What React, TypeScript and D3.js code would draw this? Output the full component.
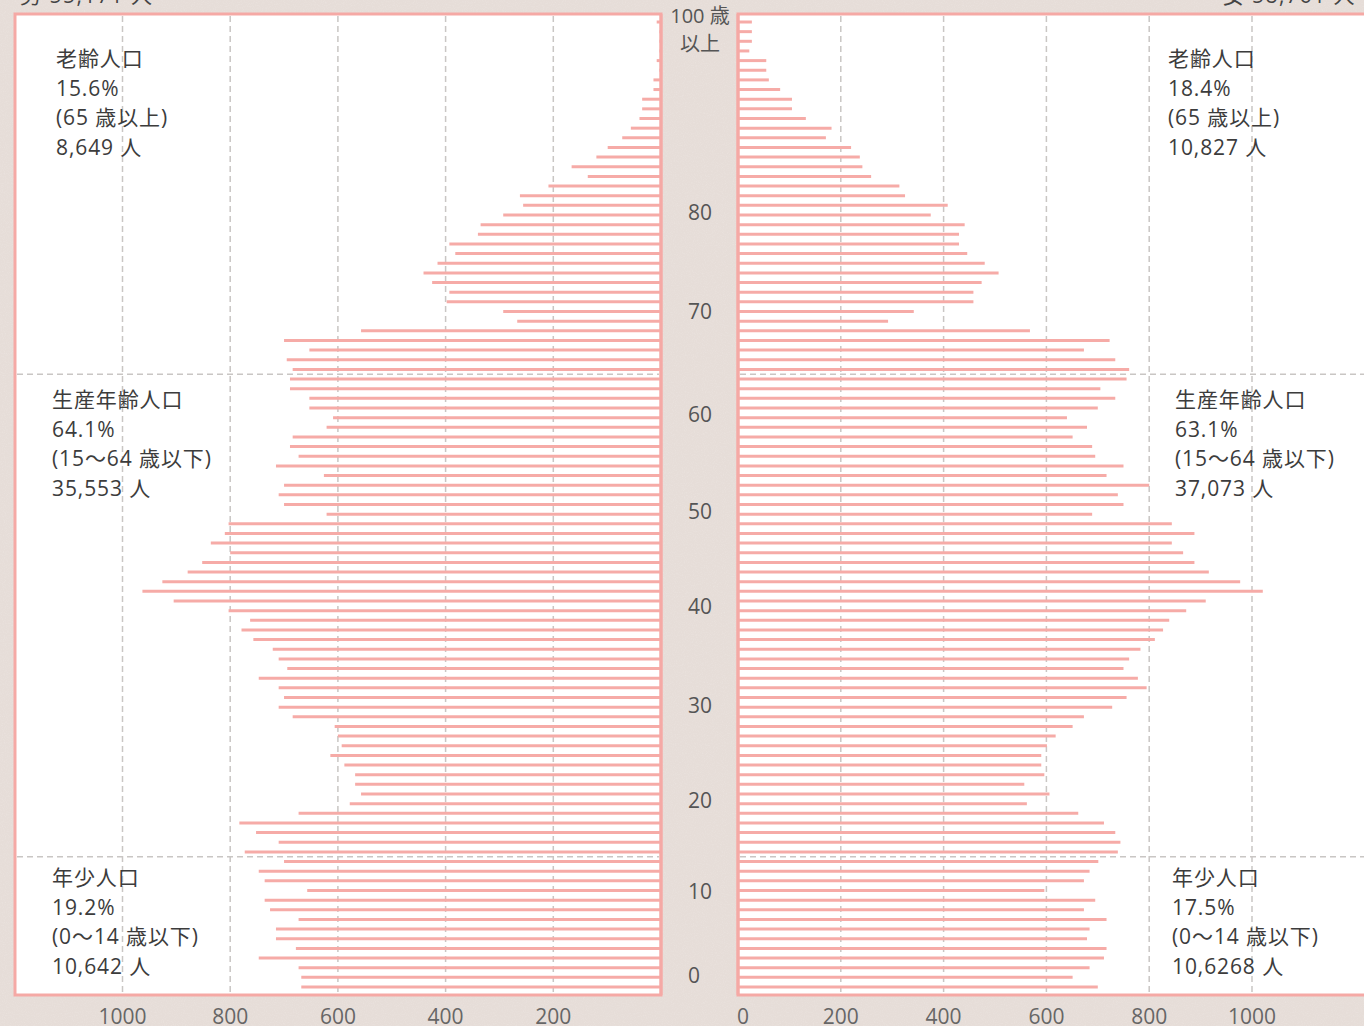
import React from "react";
import * as d3 from "d3";

// ---- data (ages listed from 100+ down to 0) ----
const ages: number[] = d3.range(100, -1, -1);

const maleValues: number[] = [
  8, 3, 3, 3, 8, 3, 14, 14, 35, 35,
  40, 56, 72, 99, 120, 166, 136, 209, 262, 256,
  293, 335, 340, 393, 382, 415, 441, 425, 393, 398,
  293, 267, 557, 700, 653, 695, 684, 689, 689, 653,
  653, 609, 621, 684, 689, 673, 715, 626, 700, 710,
  700, 621, 803, 810, 836, 800, 852, 879, 926, 963,
  905, 803, 763, 779, 757, 721, 710, 694, 747, 710,
  700, 710, 684, 606, 600, 593, 614, 588, 568, 568,
  557, 578, 673, 783, 752, 710, 773, 700, 747, 736,
  657, 736, 726, 673, 715, 715, 678, 747, 673, 668,
  668,
];

const femaleValues: number[] = [
  27, 27, 27, 22, 55, 55, 60, 82, 105, 105,
  132, 182, 171, 220, 237, 242, 259, 314, 325, 408,
  375, 441, 430, 430, 446, 480, 507, 474, 458, 458,
  342, 292, 568, 723, 673, 734, 761, 756, 705, 734,
  700, 640, 679, 651, 689, 695, 750, 717, 800, 739,
  750, 689, 844, 888, 844, 866, 888, 916, 977, 1021,
  910, 872, 839, 827, 811, 783, 761, 750, 778, 795,
  756, 728, 673, 651, 618, 601, 590, 590, 596, 557,
  606, 562, 662, 712, 734, 744, 739, 701, 684, 673,
  596, 695, 673, 717, 684, 679, 717, 712, 684, 651,
  700,
];

const xTicks: number[] = [0, 200, 400, 600, 800, 1000];
const ageTicks: number[] = [80, 70, 60, 50, 40, 30, 20, 10, 0];
const dividerAges: number[] = [64, 14];

const headerMale = "男 55,171 人";
const headerFemale = "女 58,761 人";

const maleGroups: string[][] = [
  ["老齢人口", "15.6%", "(65 歳以上)", "8,649 人"],
  ["生産年齢人口", "64.1%", "(15〜64 歳以下)", "35,553 人"],
  ["年少人口", "19.2%", "(0〜14 歳以下)", "10,642 人"],
];
const femaleGroups: string[][] = [
  ["老齢人口", "18.4%", "(65 歳以上)", "10,827 人"],
  ["生産年齢人口", "63.1%", "(15〜64 歳以下)", "37,073 人"],
  ["年少人口", "17.5%", "(0〜14 歳以下)", "10,6268 人"],
];

// ---- layout ----
const W = 1364;
const H = 1026;
const BG = "#e6ddd8";
const PINK = "#f6aba7";
const BORDER = "#f5a9a5";
const GRID = "#c9c6c4";
const FONT = "'Open Sans', 'Noto Sans CJK JP', 'Noto Sans', sans-serif";

const panelTop = 14;
const panelBottom = 995;
const leftPanelX0 = 15;
const leftZero = 661;
const rightZero = 738;

// small vertical nudges for the age labels, as placed in the original
const ageLabelNudge: Record<number, number> = { 80: -3, 70: -1, 60: 6, 50: 6, 40: 5, 30: 7, 20: 6, 10: 0, 0: -12 };

export default function App() {
  const y = d3.scalePoint<number>().domain(ages).range([22, 987]);
  const xL = d3.scaleLinear().domain([0, 1000]).range([leftZero, 122.5]);
  const xR = d3.scaleLinear().domain([0, 1000]).range([rightZero, 1252]);

  const dividerY = dividerAges.map((a) => ((y(a) as number) + (y(a - 1) as number)) / 2);
  const groupTopY = [58, 399, 877];
  const lineGap = 29.7;
  const textProps = { fontSize: 21, fill: "#3c3c3c", letterSpacing: 0.9, dominantBaseline: "central" as const };

  return (
    <svg
      width={W}
      height={H}
      style={{ position: "absolute", left: 0, top: 0, display: "block" }}
      fontFamily={FONT}
    >
      <defs>
        <filter id="noise" x="0" y="0" width="100%" height="100%">
          <feTurbulence type="fractalNoise" baseFrequency="0.9" numOctaves="2" seed="3" result="t" />
          <feColorMatrix
            in="t"
            type="matrix"
            values="0 0 0 0 1  0 0 0 0 1  0 0 0 0 1  0 0 0 1.2 -0.55"
          />
        </filter>
      </defs>
      <rect x={0} y={0} width={W} height={H} fill={BG} />
      <rect x={0} y={0} width={W} height={H} filter="url(#noise)" opacity={0.25} />

      {/* header texts (cut off at the top) */}
      <text x={20} y={3} fontSize={21} fill="#444" letterSpacing={1.5}>{headerMale}</text>
      <text x={1356} y={3} fontSize={21} fill="#444" letterSpacing={1.5} textAnchor="end">{headerFemale}</text>

      {/* panels */}
      <rect
        x={leftPanelX0}
        y={panelTop}
        width={leftZero - leftPanelX0}
        height={panelBottom - panelTop}
        fill="#fff"
        stroke={BORDER}
        strokeWidth={3}
      />
      <rect
        x={rightZero}
        y={panelTop}
        width={W + 20 - rightZero}
        height={panelBottom - panelTop}
        fill="#fff"
        stroke={BORDER}
        strokeWidth={3}
      />

      {/* vertical grid */}
      {xTicks.filter((t) => t > 0).map((t) => (
        <g key={"g" + t}>
          <line x1={xL(t)} x2={xL(t)} y1={panelTop + 2} y2={panelBottom - 2} stroke={GRID} strokeWidth={1.5} strokeDasharray="6 4" />
          <line x1={xR(t)} x2={xR(t)} y1={panelTop + 2} y2={panelBottom - 2} stroke={GRID} strokeWidth={1.5} strokeDasharray="6 4" />
        </g>
      ))}

      {/* horizontal dividers */}
      {dividerY.map((dy, i) => (
        <g key={"d" + i}>
          <line x1={leftPanelX0 + 2} x2={leftZero - 2} y1={dy} y2={dy} stroke={GRID} strokeWidth={1.3} strokeDasharray="6 4" />
          <line x1={rightZero + 2} x2={W} y1={dy} y2={dy} stroke={GRID} strokeWidth={1.3} strokeDasharray="6 4" />
        </g>
      ))}

      {/* bars */}
      {ages.map((a, i) => (
        <g key={"b" + a}>
          <line
            x1={xL(maleValues[i])}
            x2={leftZero}
            y1={y(a) as number}
            y2={y(a) as number}
            stroke={PINK}
            strokeWidth={3}
          />
          <line
            x1={rightZero}
            x2={xR(femaleValues[i])}
            y1={y(a) as number}
            y2={y(a) as number}
            stroke={PINK}
            strokeWidth={3}
          />
        </g>
      ))}

      {/* panel edges on the inner side (re-draw on top) */}
      <line x1={leftZero} x2={leftZero} y1={panelTop} y2={panelBottom} stroke={BORDER} strokeWidth={3} />
      <line x1={rightZero} x2={rightZero} y1={panelTop} y2={panelBottom} stroke={BORDER} strokeWidth={3} />

      {/* age labels */}
      <text x={700} y={15} fontSize={20} fill="#555" textAnchor="middle" dominantBaseline="central">100 歳</text>
      <text x={700} y={43} fontSize={20} fill="#555" textAnchor="middle" dominantBaseline="central">以上</text>
      {ageTicks.map((a) => (
        <text
          key={"a" + a}
          x={a === 0 ? 694 : 700}
          y={(y(a) as number) + (ageLabelNudge[a] ?? 0)}
          fontSize={21}
          fill="#555"
          textAnchor="middle"
          dominantBaseline="central"
        >
          {a}
        </text>
      ))}

      {/* x tick labels */}
      {xTicks.filter((t) => t > 0).map((t) => (
        <text key={"xl" + t} x={xL(t)} y={1016} fontSize={21} fill="#666" textAnchor="middle" dominantBaseline="central">
          {t}
        </text>
      ))}
      {xTicks.map((t) => (
        <text key={"xr" + t} x={t === 0 ? xR(t) + 5 : xR(t)} y={1016} fontSize={21} fill="#666" textAnchor="middle" dominantBaseline="central">
          {t}
        </text>
      ))}

      {/* group annotations */}
      {maleGroups.map((lines, gi) =>
        lines.map((s, li) => (
          <text key={"m" + gi + li} x={gi === 0 ? 56 : 52} y={groupTopY[gi] + li * lineGap} {...textProps}>
            {s}
          </text>
        ))
      )}
      {femaleGroups.map((lines, gi) =>
        lines.map((s, li) => (
          <text key={"f" + gi + li} x={[1168, 1175, 1172][gi]} y={groupTopY[gi] + li * lineGap} {...textProps}>
            {s}
          </text>
        ))
      )}
    </svg>
  );
}
